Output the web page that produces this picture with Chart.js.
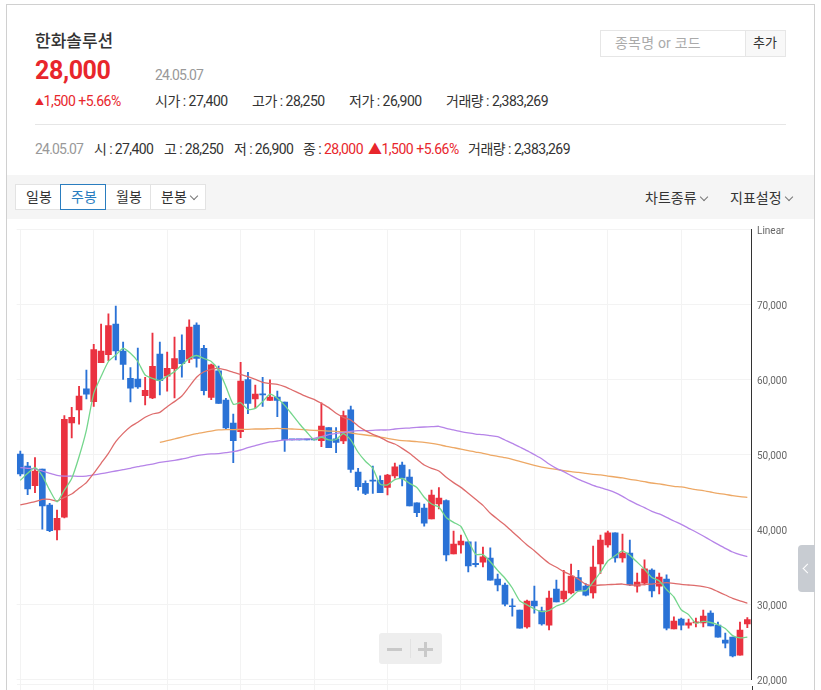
<!DOCTYPE html>
<html lang="ko">
<head>
<meta charset="utf-8">
<title>한화솔루션</title>
<script src="https://cdn.jsdelivr.net/npm/chart.js@4"></script>
<style>
    html, body { margin: 0; padding: 0; background: #fff; overflow: hidden; }
    body { width: 821px; height: 690px; position: relative; font-family: Roboto, "Noto Sans CJK KR", sans-serif; color: #333; }
    .t { position: absolute; white-space: nowrap; line-height: 20px; font-size: 14px; letter-spacing: -0.5px; }
    .n { letter-spacing: -0.6px; }
    .red { color: #e8262c; }
    .gray { color: #999; }
    .box { position: absolute; box-sizing: border-box; }
    .btn { position: absolute; top: 184px; height: 26px; box-sizing: border-box; background: #fff; border: 1px solid #e3e3e3; font-size: 14px; line-height: 25px; padding-left: 10px; }
    .chev { display: inline-block; width: 5px; height: 5px; border-right: 1px solid #777; border-bottom: 1px solid #777; transform: rotate(45deg); margin: 0 0 3px 4px; }
    #wrap { position: absolute; left: 7px; top: 220px; width: 807px; height: 470px; }
</style>
</head>
<body>
<div class="box" style="left:6px;top:4px;width:809px;height:700px;border:1px solid #d0d0d0;border-width:1px 1px 0 1.5px"></div>

<div class="t" style="left:35px;top:31px;font-size:17px;font-weight:500;letter-spacing:0">한화솔루션</div>
<div class="t red" style="left:35px;top:56px;font-size:25px;line-height:30px;font-weight:700;letter-spacing:-0.4px">28,000</div>
<div class="t gray" style="left:155px;top:65px;letter-spacing:-0.8px">24.05.07</div>

<div class="t red" style="left:35px;top:91px"><span style="font-size:9px;vertical-align:1px">▲</span>1,500 +5.66%</div>
<div class="t" style="left:155px;top:91px">시가 : 27,400</div>
<div class="t" style="left:252px;top:91px">고가 : 28,250</div>
<div class="t" style="left:349px;top:91px">저가 : 26,900</div>
<div class="t" style="left:446px;top:91px">거래량 : 2,383,269</div>

<div class="box" style="left:35px;top:124px;width:751px;height:1px;background:#e6e6e6"></div>

<div class="t gray" style="left:35px;top:139px;letter-spacing:-0.8px">24.05.07</div>
<div class="t n" style="left:94px;top:139px">시 : 27,400</div>
<div class="t n" style="left:164px;top:139px">고 : 28,250</div>
<div class="t n" style="left:234px;top:139px">저 : 26,900</div>
<div class="t" style="left:303px;top:139px">종 :</div>
<div class="t red" style="left:324px;top:139px">28,000</div>
<div class="t red" style="left:368px;top:139px">▲1,500 +5.66%</div>
<div class="t" style="left:468px;top:139px">거래량 : 2,383,269</div>

<div class="box" style="left:600px;top:30px;width:186px;height:27px;border:1px solid #e6e6e6"></div>
<div class="box" style="left:745px;top:31px;width:40px;height:25px;background:#f8f8f8;border-left:1px solid #e6e6e6"></div>
<div class="t" style="left:615px;top:33px;color:#aaa;letter-spacing:0.2px">종목명 or 코드</div>
<div class="t" style="left:753px;top:33px;font-size:13px;letter-spacing:0">추가</div>

<div class="box" style="left:7px;top:175px;width:807px;height:44px;background:#f5f5f5"></div>
<div class="btn" style="left:15px;width:46px">일봉</div>
<div class="btn" style="left:105px;width:46px">월봉</div>
<div class="btn" style="left:150px;width:56px">분봉<span class="chev"></span></div>
<div class="btn" style="left:60px;width:46px;border-color:#2a7dbf;color:#2a7dbf">주봉</div>
<div class="t" style="left:645px;top:188px;letter-spacing:0">차트종류<span class="chev"></span></div>
<div class="t" style="left:730px;top:188px;letter-spacing:0">지표설정<span class="chev"></span></div>

<div id="wrap"><canvas id="chart"></canvas></div>

<div class="box" style="left:17px;top:684px;width:735px;height:1px;background:#f3f3f3"></div>
<div class="box" style="left:752px;top:686px;width:1px;height:4px;background:#333"></div>

<div class="box" style="left:379px;top:633px;width:63px;height:31px;background:#eee;border-radius:3px"></div>
<div class="box" style="left:387px;top:648px;width:15px;height:3px;background:#c9c9c9"></div>
<div class="box" style="left:410px;top:639px;width:1px;height:19px;background:#e2e2e2"></div>
<div class="box" style="left:418px;top:648px;width:15px;height:3px;background:#c9c9c9"></div>
<div class="box" style="left:424px;top:642px;width:3px;height:15px;background:#c9c9c9"></div>

<div class="box" style="left:798px;top:545px;width:17px;height:47px;background:#c8ccd2;border-radius:4px 0 0 4px"></div>
<div class="box" style="left:804px;top:565px;width:7px;height:7px;border-left:1.5px solid #fff;border-bottom:1.5px solid #fff;transform:rotate(45deg)"></div>

<script>
const categories = Array.from({ length: 100 }, (_, i) => i);

const opens = [
    50050, 48450, 45850, 48050, 43250, 39950, 41650, 54200, 55950, 58750,
    57050, 62250, 63300, 67400, 63800, 60150, 60050, 57850, 57550, 63400,
    60450, 61450, 63900, 62700, 67250, 64150, 57600, 61150, 57250, 54200,
    53050, 60000, 57400, 58050, 57200, 57650, 57000, 51950, 51950, 51950,
    51950, 51850, 53600, 52100, 51800, 55950, 47650, 46150, 46550, 46550,
    45600, 47150, 48600, 47000, 43550, 42850, 41400, 43400, 43850, 36750,
    37950, 38350, 35500, 35650, 36200, 33400, 32600, 29800, 29250, 27000,
    30450, 29150, 27250, 32050, 30750, 31550, 33600, 32450, 31550, 35400,
    37950, 39550, 36200, 36850, 32450, 32850, 34600, 32450, 33400, 26750,
    28050, 27250, 27550, 27550, 28850, 27250, 25250, 25650, 23250, 27400,
];
const highs = [
    50450, 48950, 49600, 48050, 43500, 42600, 55200, 56300, 59100, 61250,
    64700, 67400, 68750, 69800, 65000, 61600, 64200, 60300, 66200, 65000,
    63650, 65650, 65950, 67950, 67550, 64550, 62050, 61800, 57500, 55400,
    62300, 60950, 59250, 60300, 59950, 58450, 57000, 51950, 51950, 51950,
    51950, 56900, 53600, 53600, 55800, 56450, 48150, 46500, 48450, 47150,
    47350, 48850, 49000, 48000, 43550, 43400, 45250, 45600, 43950, 39800,
    39250, 38350, 38350, 37650, 37550, 34050, 32850, 30750, 29250, 30600,
    32450, 29650, 31800, 33250, 34550, 35400, 34550, 32800, 37800, 39250,
    39800, 39550, 39400, 38600, 34200, 35950, 34750, 34200, 33950, 28350,
    28200, 28050, 28200, 29250, 29150, 27650, 26200, 25650, 27650, 28250,
];
const lows = [
    47150, 44650, 44900, 40050, 39700, 38600, 41550, 52200, 54050, 57400,
    56400, 62250, 62500, 62600, 60000, 57000, 58800, 56600, 57450, 57950,
    58450, 57550, 60300, 62250, 61650, 57950, 57300, 56800, 53350, 48900,
    52250, 55450, 56150, 56400, 57200, 55050, 50400, 51950, 51950, 51950,
    51950, 51050, 50900, 50250, 51450, 47600, 45250, 44650, 44800, 44900,
    44600, 46850, 45800, 43150, 41700, 40450, 41400, 42750, 35800, 36750,
    36850, 34350, 35000, 35000, 33250, 31800, 29800, 28450, 26850, 26850,
    28850, 27250, 26600, 30350, 30350, 31400, 31800, 31150, 30850, 34150,
    37650, 35650, 35650, 32500, 31650, 32600, 31000, 31400, 26600, 26750,
    26600, 26850, 27000, 27000, 27150, 25650, 24200, 23000, 23250, 26900,
];
const closes = [
    47400, 45400, 47800, 43150, 39850, 41500, 54700, 54950, 57800, 58050,
    64000, 63800, 67200, 63800, 62000, 58850, 59000, 58550, 61750, 59850,
    61500, 62800, 62100, 67000, 62800, 58500, 61950, 56800, 53550, 51850,
    59800, 56800, 58050, 57950, 57650, 57200, 51950, 51950, 51950, 51950,
    51950, 53800, 50900, 51600, 55200, 48000, 45700, 44800, 46450, 44900,
    47250, 48350, 46850, 43150, 42250, 40850, 44600, 44200, 36600, 38050,
    38450, 35150, 35300, 36350, 33250, 32600, 30050, 29700, 26850, 30450,
    29800, 27400, 30850, 30350, 31800, 33800, 31800, 31250, 35000, 38600,
    39550, 36200, 36850, 32600, 33000, 34750, 31800, 33650, 26850, 27800,
    27250, 27550, 27650, 28450, 27150, 25650, 24850, 23150, 26600, 28000,
];

const ma5 = [
    46550, 47500, 48250, 47150, 45250, 43700, 45250, 46800, 49700, 53250,
    58150, 60400, 62400, 63250, 64150, 63500, 62400, 60600, 60150, 59850,
    60450, 61050, 61950, 62800, 63200, 62800, 62400, 61250, 59050, 56700,
    56900, 56000, 56150, 57050, 58050, 57500, 56550, 55350, 54100, 53000,
    51950, 52300, 51950, 52000, 52800, 51950, 50300, 49100, 48150, 46050,
    45950, 46650, 46800, 46150, 45600, 44300, 43400, 43000, 41600, 40950,
    40400, 38500, 36700, 36650, 35700, 34550, 33500, 32200, 30500, 29950,
    29400, 29050, 29200, 29800, 30150, 30950, 31800, 31850, 33000, 34300,
    35800, 36500, 37150, 36550, 35650, 34700, 33600, 33150, 32000, 31000,
    29300, 28650, 27500, 27750, 27600, 27300, 26800, 25850, 25550, 25650,
];
const ma20 = [
    43270, 43490, 43710, 44020, 44020, 43800, 44290, 44730, 45490, 46250,
    47490, 48820, 50160, 51710, 52820, 53710, 54290, 54960, 55400, 55620,
    56380, 57050, 57800, 59050, 60290, 61040, 61360, 61490, 61270, 60960,
    60690, 60380, 60020, 59620, 59450, 59360, 59050, 58600, 58160, 57710,
    57360, 56820, 56250, 55490, 54960, 54600, 53800, 53180, 52690, 52290,
    51760, 51400, 50820, 50160, 49360, 48600, 48160, 47800, 46960, 46250,
    45620, 44820, 44020, 43220, 42160, 41360, 40600, 39710, 38820, 37940,
    37180, 36290, 35490, 34960, 34380, 33930, 33360, 32690, 32510, 32600,
    32640, 32690, 32730, 32600, 32600, 32640, 32730, 32820, 32910, 32820,
    32690, 32600, 32510, 32380, 32160, 31710, 31270, 30820, 30470, 30160,
];
const ma60 = [
    48250, 48160, 48070, 47800, 47490, 47220, 47130, 47130, 47090, 47130,
    47270, 47440, 47620, 47800, 47980, 48160, 48380, 48560, 48730, 48960,
    49090, 49220, 49400, 49620, 49840, 49980, 50070, 50110, 50250, 50380,
    50600, 50910, 51180, 51450, 51670, 51800, 51940, 51980, 52020, 52070,
    52160, 52380, 52650, 52820, 52960, 53090, 53180, 53180, 53220, 53270,
    53270, 53400, 53490, 53530, 53620, 53670, 53710, 53760, 53490, 53270,
    53050, 52870, 52730, 52640, 52510, 52380, 51930, 51490, 51000, 50510,
    49980, 49440, 48730, 48160, 47710, 47180, 46690, 46290, 45890, 45580,
    45270, 44910, 44420, 43850, 43360, 42910, 42420, 42070, 41620, 41130,
    40690, 40160, 39670, 39130, 38560, 38020, 37490, 37000, 36640, 36380,
];
const ma120 = [
    null, null, null, null, null, null, null, null, null, null,
    null, null, null, null, null, null, null, null, null, 51620,
    51840, 52070, 52330, 52560, 52780, 52960, 53130, 53270, 53310, 53310,
    53360, 53360, 53400, 53400, 53450, 53490, 53450, 53400, 53360, 53270,
    53220, 53180, 53130, 53090, 53000, 52870, 52730, 52600, 52470, 52330,
    52160, 51980, 51840, 51800, 51710, 51620, 51490, 51310, 51090, 50910,
    50730, 50510, 50330, 50160, 49930, 49760, 49580, 49360, 49090, 48820,
    48560, 48330, 48160, 48020, 47850, 47710, 47620, 47490, 47360, 47270,
    47130, 47000, 46870, 46690, 46560, 46380, 46200, 46070, 45930, 45760,
    45670, 45490, 45310, 45180, 45000, 44820, 44690, 44510, 44380, 44290,
];

const priceTicks = [20000, 30000, 40000, 50000, 60000, 70000, 80000];

const RED = "#ea3240";
const BLUE = "#2a72d6";
const candleColor = (ctx) => (closes[ctx.dataIndex] > opens[ctx.dataIndex] ? RED : BLUE);

const maLine = (label, data, color, order) => ({
    type: "line",
    label,
    data,
    borderColor: color,
    borderWidth: 1.3,
    pointRadius: 0,
    tension: 0.2,
    order,
});

new Chart(document.getElementById("chart"), {
    data: {
        labels: categories,
        datasets: [
            maLine("MA5", ma5, "#74d68c", 1),
            maLine("MA20", ma20, "#de6c6c", 2),
            maLine("MA60", ma60, "#b684e8", 3),
            maLine("MA120", ma120, "#eda865", 4),
            {
                type: "bar",
                label: "body",
                data: categories.map((i) => [opens[i], closes[i]]),
                backgroundColor: candleColor,
                barThickness: 6,
                minBarLength: 1,
                grouped: false,
                order: 5,
            },
            {
                type: "bar",
                label: "wick",
                data: categories.map((i) => [lows[i], highs[i]]),
                backgroundColor: candleColor,
                barThickness: 1.2,
                grouped: false,
                order: 6,
            },
        ],
    },
    options: {
        responsive: true,
        maintainAspectRatio: false,
        animation: false,
        layout: { padding: { left: 9.63, top: 9, right: 0, bottom: 0 } },
        plugins: { legend: { display: false }, tooltip: { enabled: false } },
        scales: {
            x: {
                type: "category",
                offset: true,
                afterBuildTicks: (scale) => {
                    scale.ticks = scale.ticks.filter((t) => t.value % 10 === 0);
                },
                afterFit: (scale) => {
                    scale.height = 10.5;
                },
                ticks: { display: false, autoSkip: false },
                grid: { offset: false, color: "#f3f3f3", tickColor: "#f3f3f3", tickLength: 11 },
                border: { display: false },
            },
            y: {
                position: "right",
                min: 20000,
                max: 80067,
                afterBuildTicks: (scale) => {
                    scale.ticks = priceTicks.map((value) => ({ value }));
                },
                afterFit: (scale) => {
                    scale.width = 63;
                    scale.paddingTop = 0;
                    scale.paddingBottom = 0;
                },
                ticks: {
                    padding: 6,
                    labelOffset: 1.5,
                    color: "#666",
                    font: { family: "Roboto", size: 10 },
                    callback: (v) => (v === 80000 ? "Linear" : v.toLocaleString("en-US")),
                },
                grid: { color: "#f3f3f3", drawTicks: false },
                border: { display: true, color: "#333", width: 1 },
            },
        },
    },
});
</script>
</body>
</html>
